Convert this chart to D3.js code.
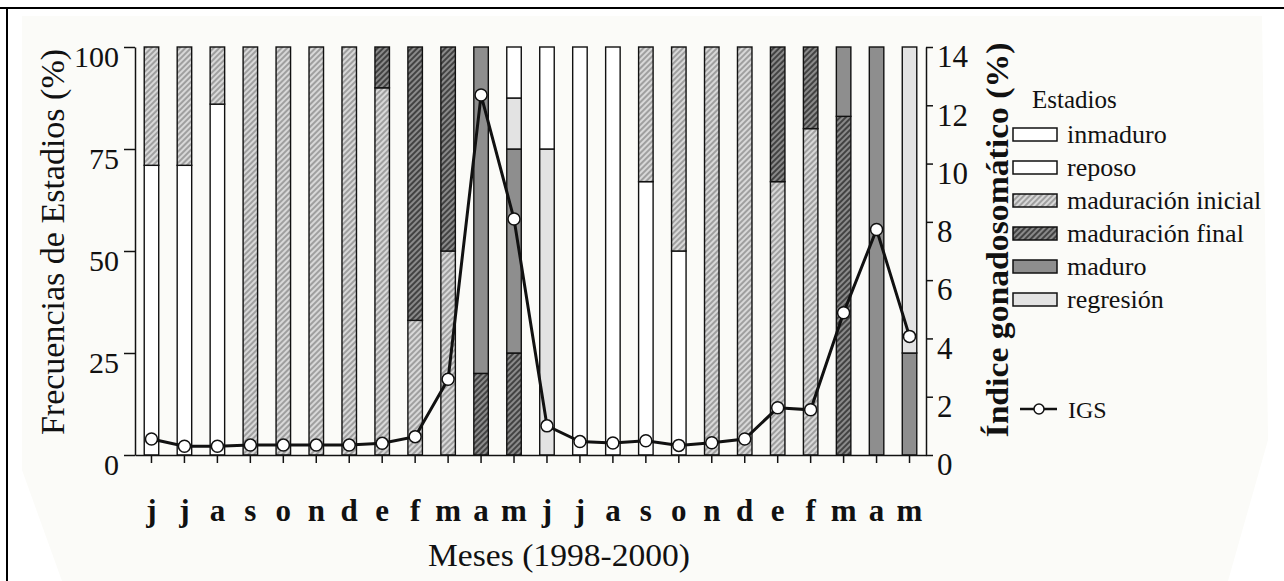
<!DOCTYPE html>
<html>
<head>
<meta charset="utf-8">
<script src="https://cdn.jsdelivr.net/npm/d3@7"></script>
<style>
  body { margin: 0; background: #fff; }
  svg text { font-family: "Liberation Serif", "Times New Roman", serif !important; fill: #111; }
</style>
</head>
<body>
<script>
// Data
var months = ["j", "j", "a", "s", "o", "n", "d", "e", "f", "m", "a", "m",
              "j", "j", "a", "s", "o", "n", "d", "e", "f", "m", "a", "m"];
var inmaduro          = [71, 71, 86, 0, 0, 0, 0, 0, 0, 0, 0, 0, 0, 0, 0, 67, 50, 0, 0, 0, 0, 0, 0, 0];
var maduracionInicial = [29, 29, 14, 100, 100, 100, 100, 90, 33, 50, 0, 0, 0, 0, 0, 33, 50, 100, 100, 67, 80, 0, 0, 0];
var maduracionFinal   = [0, 0, 0, 0, 0, 0, 0, 10, 67, 50, 20, 25, 0, 0, 0, 0, 0, 0, 0, 33, 20, 83, 0, 0];
var maduro            = [0, 0, 0, 0, 0, 0, 0, 0, 0, 0, 80, 50, 0, 0, 0, 0, 0, 0, 0, 0, 0, 17, 100, 25];
var regresion         = [0, 0, 0, 0, 0, 0, 0, 0, 0, 0, 0, 12.5, 75, 0, 0, 0, 0, 0, 0, 0, 0, 0, 0, 75];
var reposo            = [0, 0, 0, 0, 0, 0, 0, 0, 0, 0, 0, 12.5, 25, 100, 100, 0, 0, 0, 0, 0, 0, 0, 0, 0];
var igs = [0.55, 0.3, 0.3, 0.34, 0.34, 0.34, 0.34, 0.4, 0.63, 2.6, 12.35, 8.1,
           1.0, 0.46, 0.41, 0.49, 0.33, 0.42, 0.55, 1.62, 1.55, 4.88, 7.74, 4.07];
var leftTicks = [0, 25, 50, 75, 100];
var rightTicks = [0, 2, 4, 6, 8, 10, 12, 14];

// stack order, bottom to top
var keys = ["inmaduro", "maduracionInicial", "maduracionFinal", "maduro", "regresion", "reposo"];
var series = {inmaduro: inmaduro, maduracionInicial: maduracionInicial, maduracionFinal: maduracionFinal,
              maduro: maduro, regresion: regresion, reposo: reposo};
var fills = {inmaduro: "#ffffff", reposo: "#ffffff", maduracionInicial: "url(#hatchLight)",
             maduracionFinal: "url(#hatchDark)", maduro: "#8e8e8e", regresion: "#e3e3e3"};
var legendItems = [
  {key: "inmaduro", label: "inmaduro"},
  {key: "reposo", label: "reposo"},
  {key: "maduracionInicial", label: "maduración inicial"},
  {key: "maduracionFinal", label: "maduración final"},
  {key: "maduro", label: "maduro"},
  {key: "regresion", label: "regresión"}
];

var table = months.map(function (m, i) {
  var row = {i: i, month: m};
  keys.forEach(function (k) { row[k] = series[k][i]; });
  return row;
});

var W = 1284, H = 581;
var serif = "'Liberation Serif', 'Times New Roman', serif";
var svg = d3.select("body").append("svg").attr("width", W).attr("height", H)
  .style("font-family", serif);

// patterns
var defs = svg.append("defs");
var light = defs.append("pattern").attr("id", "hatchLight").attr("patternUnits", "userSpaceOnUse")
  .attr("width", 4).attr("height", 4).attr("patternTransform", "rotate(45)");
light.append("rect").attr("width", 4).attr("height", 4).attr("fill", "#d8d8d8");
light.append("line").attr("x1", 1).attr("x2", 1).attr("y1", 0).attr("y2", 4)
  .attr("stroke", "#808080").attr("stroke-width", 1.3);
var dark = defs.append("pattern").attr("id", "hatchDark").attr("patternUnits", "userSpaceOnUse")
  .attr("width", 4).attr("height", 4).attr("patternTransform", "rotate(45)");
dark.append("rect").attr("width", 4).attr("height", 4).attr("fill", "#8a8a8a");
dark.append("line").attr("x1", 1).attr("x2", 1).attr("y1", 0).attr("y2", 4)
  .attr("stroke", "#2a2a2a").attr("stroke-width", 1.5);

// faint paper background and frame
svg.append("polygon")
  .attr("points", "22,16 1262,16 1268,440 1228,581 62,581 22,470")
  .attr("fill", "#fbfbf8");
svg.append("line").attr("x1", 0).attr("x2", W).attr("y1", 8).attr("y2", 8)
  .attr("stroke", "#000").attr("stroke-width", 2);
svg.append("line").attr("x1", 7).attr("x2", 7).attr("y1", 8).attr("y2", H)
  .attr("stroke", "#000").attr("stroke-width", 2);

// scales
var x = d3.scaleBand().domain(d3.range(months.length)).range([135, 926])
  .paddingInner(0.56).paddingOuter(0.28);
var yL = d3.scaleLinear().domain([0, 100]).range([455, 47]);
var yR = d3.scaleLinear().domain([0, 14]).range([455, 47]);

// bars
var stacked = d3.stack().keys(keys)(table);
svg.append("g").selectAll("g").data(stacked).enter().append("g")
  .attr("fill", function (d) { return fills[d.key]; })
  .selectAll("rect").data(function (d) { return d.filter(function (s) { return s[1] - s[0] > 0; }); })
  .enter().append("rect")
  .attr("x", function (d) { return x(d.data.i); })
  .attr("width", x.bandwidth())
  .attr("y", function (d) { return yL(d[1]); })
  .attr("height", function (d) { return yL(d[0]) - yL(d[1]); })
  .attr("stroke", "#111").attr("stroke-width", 1.4);

// axes
var xAxis = svg.append("g").attr("transform", "translate(0,455)")
  .call(d3.axisBottom(x).tickSize(8).tickSizeOuter(0).tickPadding(36)
    .tickFormat(function (i) { return months[i]; }));
xAxis.attr("font-family", serif);
xAxis.selectAll("text").style("font-size", "31px").style("font-weight", "bold").attr("fill", "#111");

var leftAxis = svg.append("g").attr("transform", "translate(135,0)")
  .call(d3.axisLeft(yL).tickValues(leftTicks).tickSize(11).tickSizeOuter(0).tickPadding(5));
leftAxis.attr("font-family", serif);
leftAxis.selectAll("text").style("font-size", "30px").attr("dy", "0.66em").attr("fill", "#111");

var rightAxis = svg.append("g").attr("transform", "translate(926,0)")
  .call(d3.axisRight(yR).tickValues(rightTicks).tickSize(7).tickSizeOuter(0).tickPadding(4));
rightAxis.attr("font-family", serif);
rightAxis.selectAll("text").style("font-size", "31px").attr("dy", "0.64em").attr("fill", "#111");

svg.selectAll(".domain, .tick line").attr("stroke", "#111").attr("stroke-width", 1.5);

// IGS line
var line = d3.line()
  .x(function (d, i) { return x(i) + x.bandwidth() / 2; })
  .y(function (d) { return yR(d); });
svg.append("path").datum(igs).attr("d", line).attr("fill", "none")
  .attr("stroke", "#111").attr("stroke-width", 3);
svg.append("g").selectAll("circle").data(igs).enter().append("circle")
  .attr("cx", function (d, i) { return x(i) + x.bandwidth() / 2; })
  .attr("cy", function (d) { return yR(d); })
  .attr("r", 6).attr("fill", "#fff").attr("stroke", "#111").attr("stroke-width", 1.5);

// axis titles
svg.append("text").attr("transform", "translate(64,242) rotate(-90)")
  .attr("text-anchor", "middle").style("font-size", "34px")
  .text("Frecuencias de Estadios (%)");
svg.append("text").attr("transform", "translate(1008,240) rotate(-90)")
  .attr("text-anchor", "middle").style("font-size", "31px").style("font-weight", "bold")
  .attr("textLength", 395).attr("lengthAdjust", "spacingAndGlyphs")
  .text("Índice gonadosomático (%)");
svg.append("text").attr("x", 559).attr("y", 566).attr("text-anchor", "middle")
  .style("font-size", "32px").attr("textLength", 262).attr("lengthAdjust", "spacingAndGlyphs")
  .text("Meses (1998-2000)");

// legend
svg.append("text").attr("x", 1032).attr("y", 108).style("font-size", "25px").text("Estadios");
var legend = svg.append("g").selectAll("g").data(legendItems).enter().append("g")
  .attr("transform", function (d, i) { return "translate(1013," + (128 + i * 33) + ")"; });
legend.append("rect").attr("width", 44).attr("height", 13)
  .attr("fill", function (d) { return fills[d.key]; })
  .attr("stroke", "#111").attr("stroke-width", 1.5);
legend.append("text").attr("x", 54).attr("y", 15).style("font-size", "26px")
  .text(function (d) { return d.label; });

svg.append("line").attr("x1", 1020).attr("x2", 1057).attr("y1", 409).attr("y2", 409)
  .attr("stroke", "#111").attr("stroke-width", 2.5);
svg.append("circle").attr("cx", 1039).attr("cy", 409).attr("r", 5)
  .attr("fill", "#fff").attr("stroke", "#111").attr("stroke-width", 1.5);
svg.append("text").attr("x", 1068).attr("y", 418).style("font-size", "24px").text("IGS");
</script>
</body>
</html>
